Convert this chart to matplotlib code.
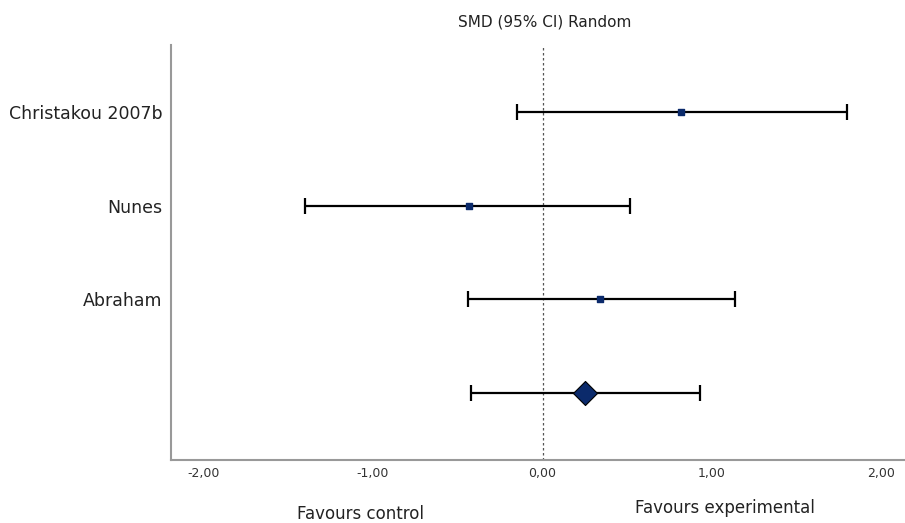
import numpy as np
from matplotlib import pyplot as plt

studies = ['Christakou 2007b', 'Nunes', 'Abraham', '']
smd = [0.82, -0.43, 0.34, 0.25]
ci_low = [-0.15, -1.40, -0.44, -0.42]
ci_high = [1.80, 0.52, 1.14, 0.93]
xticks = [-2, -1, 0, 1, 2]
xtick_labels = ['-2,00', '-1,00', '0,00', '1,00', '2,00']

fig = plt.figure(figsize=(9.05, 5.23), dpi=100)
ax = fig.add_axes([0.189, 0.1205, 0.811, 0.7935])

ypos = np.arange(len(studies))[::-1] + 1
smd = np.array(smd)
lo = np.array(ci_low)
hi = np.array(ci_high)

ax.errorbar(smd, ypos, xerr=[smd - lo, hi - smd], fmt='none', ecolor='black',
            elinewidth=1.6, capsize=6, capthick=1.6, zorder=2)
# individual studies
ax.scatter(smd[:-1], ypos[:-1], marker='s', s=22, color='#0b2a6b',
           edgecolors='#0b2a6b', zorder=3)
# pooled estimate
ax.scatter(smd[-1:], ypos[-1:], marker='D', s=150, color='#0b2a6b',
           edgecolors='black', linewidths=0.8, zorder=3)

ax.axvline(0.005, color='#555555', linestyle=(0, (2, 2)), linewidth=0.9, zorder=1)

ax.set_xlim(-2.19, 2.14)
ax.set_ylim(0.285, 4.715)
ax.set_xticks(xticks)
ax.set_xticklabels(xtick_labels, fontsize=9, color='#333333')
ax.tick_params(axis='x', length=0, pad=5)
ax.set_yticks(ypos[:-1])
ax.set_yticklabels(studies[:-1], fontsize=12.5, color='#222222')
ax.tick_params(axis='y', length=0, pad=6)

for side in ['top', 'right']:
    ax.spines[side].set_visible(False)
for side in ['left', 'bottom']:
    ax.spines[side].set_color('#999999')
    ax.spines[side].set_linewidth(1.5)

fig.text(545 / 905, 1 - 22 / 523, 'SMD (95% CI) Random', ha='center', va='center',
         fontsize=11, color='#222222')
fig.text(360 / 905, 1 - 514 / 523, 'Favours control', ha='center', va='center',
         fontsize=12, color='#222222')
fig.text(725 / 905, 1 - 508 / 523, 'Favours experimental', ha='center', va='center',
         fontsize=12, color='#222222')

fig.savefig('out.png', dpi=100)
